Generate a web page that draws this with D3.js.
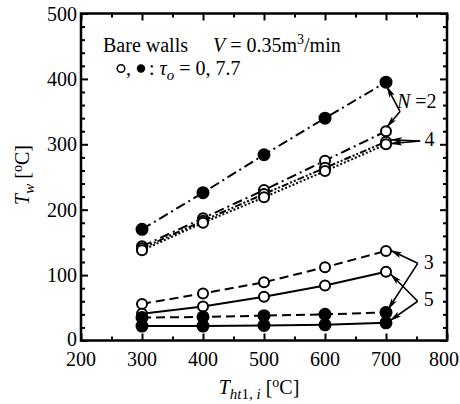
<!DOCTYPE html>
<meta charset="utf-8">
<script src="https://d3js.org/d3.v7.min.js"></script>
<style>
  body { margin: 0; background: #fff; }
</style>
<div id="my_dataviz"></div>
<script>

// data
var xVals = [300, 400, 500, 600, 700];
var n2Filled = [170, 226, 284, 340, 395];
var n2Open = [144, 187, 230, 275, 320];
var n4OpenA = [141, 183, 224, 264, 304];
var n4OpenB = [138, 180, 219, 259, 300];
var n3Open = [56, 72, 89, 112, 137];
var n5Open = [41, 52, 67, 84, 105];
var n3Filled = [35, 36, 38, 40, 43];
var n5Filled = [22, 22, 23, 24, 27];
var xTicks = [200, 300, 400, 500, 600, 700, 800];
var yTicks = [0, 100, 200, 300, 400, 500];

// series list: values, open/filled, dash pattern
var series = [
  {vals: n2Filled, open: false, dash: "10,4,2,4"},
  {vals: n2Open, open: true, dash: "10,4,2,4"},
  {vals: n4OpenA, open: true, dash: "7,2,2,2,2,2"},
  {vals: n4OpenB, open: true, dash: "2,2"},
  {vals: n3Open, open: true, dash: "9,5"},
  {vals: n5Open, open: true, dash: null},
  {vals: n3Filled, open: false, dash: "9,5"},
  {vals: n5Filled, open: false, dash: null}
];

// annotation arrows: label, label position, arrow vertex, targets (data units)
var notes = [
  {label: "N=2", lx: 718, ly: 356, vx: 723, vy: 350, to: [[701, 389], [701, 326]]},
  {label: "4", lx: 763, ly: 297, vx: 756, vy: 305, to: [[707, 307], [707, 301]]},
  {label: "3", lx: 762, ly: 109, vx: 752, vy: 118, to: [[707, 138], [703, 47]]},
  {label: "5", lx: 762, ly: 52, vx: 752, vy: 60, to: [[707, 102], [706, 30]]}
];

var FONT = "'Liberation Serif', 'Times New Roman', 'DejaVu Serif', serif";

var W = 460, H = 404;
var margin = {top: 13.5, right: 13, bottom: 63.5, left: 81},
    width = W - margin.left - margin.right,
    height = H - margin.top - margin.bottom;

var svg = d3.select("#my_dataviz")
  .append("svg")
    .attr("width", W)
    .attr("height", H)
    .style("font-family", FONT)
  .append("g")
    .attr("transform", "translate(" + margin.left + "," + margin.top + ")");

var x = d3.scaleLinear().domain([200, 800]).range([0, width]);
var y = d3.scaleLinear().domain([0, 500]).range([height, 0]);

svg.append("defs").append("marker")
    .attr("id", "head")
    .attr("viewBox", "0 0 12 6")
    .attr("refX", 12).attr("refY", 3)
    .attr("markerWidth", 12).attr("markerHeight", 6)
    .attr("markerUnits", "userSpaceOnUse")
    .attr("orient", "auto")
  .append("path")
    .attr("d", "M0,0 L12,3 L0,6 L3,3 Z")
    .attr("fill", "#000");

// axes with inward ticks, mirrored on top/right
function tickAxis(axisFn, scale, vals, len) {
  return axisFn(scale).tickValues(vals).tickSize(len).tickFormat("");
}
var xMinor = d3.range(250, 800, 100), yMinor = d3.range(20, 500, 20).filter(function(d) { return d % 100; });

svg.append("g").attr("transform", "translate(0," + height + ")").call(tickAxis(d3.axisTop, x, xTicks, 7));
svg.append("g").attr("transform", "translate(0," + height + ")").call(tickAxis(d3.axisTop, x, xMinor, 4));
svg.append("g").call(tickAxis(d3.axisBottom, x, xTicks, 7));
svg.append("g").call(tickAxis(d3.axisBottom, x, xMinor, 4));
svg.append("g").call(tickAxis(d3.axisRight, y, yTicks, 7));
svg.append("g").call(tickAxis(d3.axisRight, y, yMinor, 4));
svg.append("g").attr("transform", "translate(" + width + ",0)").call(tickAxis(d3.axisLeft, y, yTicks, 7));
svg.append("g").attr("transform", "translate(" + width + ",0)").call(tickAxis(d3.axisLeft, y, yMinor, 4));
svg.selectAll(".domain").remove();
svg.selectAll(".tick line").attr("stroke", "#000").attr("stroke-width", 2);

svg.append("rect")
  .attr("width", width).attr("height", height)
  .attr("fill", "none").attr("stroke", "#000").attr("stroke-width", 2.5);

// tick labels (last one kept inside the page edge)
svg.selectAll(".xlab").data(xTicks).enter().append("text")
  .attr("x", function(d, i) { return i === xTicks.length - 1 ? x(d) + 12 : x(d); })
  .attr("y", height + 25)
  .attr("text-anchor", function(d, i) { return i === xTicks.length - 1 ? "end" : "middle"; })
  .style("font-size", "20px")
  .text(function(d) { return d; });
svg.selectAll(".ylab").data(yTicks).enter().append("text")
  .attr("x", -4)
  .attr("y", function(d) { return y(d) + (d === 0 ? 5 : 7); })
  .attr("text-anchor", "end")
  .style("font-size", "20px")
  .text(function(d) { return d; });

// axis titles
var xt = svg.append("text")
  .attr("x", width / 2 - 5).attr("y", height + 53)
  .attr("text-anchor", "middle")
  .style("font-size", "20px");
xt.append("tspan").attr("font-style", "italic").text("T");
xt.append("tspan").attr("dy", 5).style("font-size", "15px").attr("font-style", "italic").text("ht");
xt.append("tspan").style("font-size", "15px").text("1, ");
xt.append("tspan").style("font-size", "15px").attr("font-style", "italic").text("i");
xt.append("tspan").attr("dy", -5).text(" [");
xt.append("tspan").attr("dy", -7).style("font-size", "14px").text("o");
xt.append("tspan").attr("dy", 7).text("C]");

var yt = svg.append("text")
  .attr("transform", "translate(-52," + (height / 2 - 2) + ") rotate(-90)")
  .attr("text-anchor", "middle")
  .style("font-size", "20px");
yt.append("tspan").attr("font-style", "italic").text("T");
yt.append("tspan").attr("dy", 5).style("font-size", "15px").attr("font-style", "italic").text("w");
yt.append("tspan").attr("dy", -5).text(" [");
yt.append("tspan").attr("dy", -7).style("font-size", "14px").text("o");
yt.append("tspan").attr("dy", 7).text("C]");

// lines
var line = d3.line()
  .x(function(d, i) { return x(xVals[i]); })
  .y(function(d) { return y(d); });

series.forEach(function(s) {
  svg.append("path")
    .datum(s.vals)
    .attr("d", line)
    .attr("fill", "none")
    .attr("stroke", "#000")
    .attr("stroke-width", 2)
    .attr("stroke-dasharray", s.dash);
});
series.forEach(function(s) {
  svg.selectAll(null).data(s.vals).enter().append("circle")
    .attr("cx", function(d, i) { return x(xVals[i]); })
    .attr("cy", function(d) { return y(d); })
    .attr("r", s.open ? 5 : 5.5)
    .attr("fill", s.open ? "#fff" : "#000")
    .attr("stroke", "#000")
    .attr("stroke-width", 2);
});

// annotation arrows
notes.forEach(function(n) {
  n.to.forEach(function(t) {
    svg.append("line")
      .attr("x1", x(n.vx)).attr("y1", y(n.vy))
      .attr("x2", x(t[0])).attr("y2", y(t[1]))
      .attr("stroke", "#000").attr("stroke-width", 1.6)
      .attr("marker-end", "url(#head)");
  });
  var lt = svg.append("text")
    .attr("x", x(n.lx)).attr("y", y(n.ly))
    .style("font-size", "20px");
  if (n.label.charAt(0) === "N") {
    lt.append("tspan").attr("font-style", "italic").text("N");
    lt.append("tspan").text(" =2");
  } else {
    lt.text(n.label);
  }
});

// legend text
svg.append("text").attr("x", 22).attr("y", 38).style("font-size", "20px").text("Bare walls");
var vt = svg.append("text").attr("x", 132).attr("y", 38).style("font-size", "20px");
vt.append("tspan").attr("font-style", "italic").text("V");
vt.append("tspan").text(" = 0.35m");
vt.append("tspan").attr("dy", -8).style("font-size", "14px").text("3");
vt.append("tspan").attr("dy", 8).text("/min");

svg.append("circle").attr("cx", 40).attr("cy", 55).attr("r", 3.8)
  .attr("fill", "#fff").attr("stroke", "#000").attr("stroke-width", 1.5);
svg.append("circle").attr("cx", 60).attr("cy", 55).attr("r", 4.2).attr("fill", "#000");
var lg = svg.append("text").attr("x", 45).attr("y", 61).style("font-size", "20px");
lg.append("tspan").text(",");
lg.append("tspan").attr("x", 68).text(": ");
lg.append("tspan").attr("font-style", "italic").text("τ");
lg.append("tspan").attr("dy", 5).style("font-size", "15px").attr("font-style", "italic").text("o");
lg.append("tspan").attr("dy", -5).text(" = 0, 7.7");

</script>
